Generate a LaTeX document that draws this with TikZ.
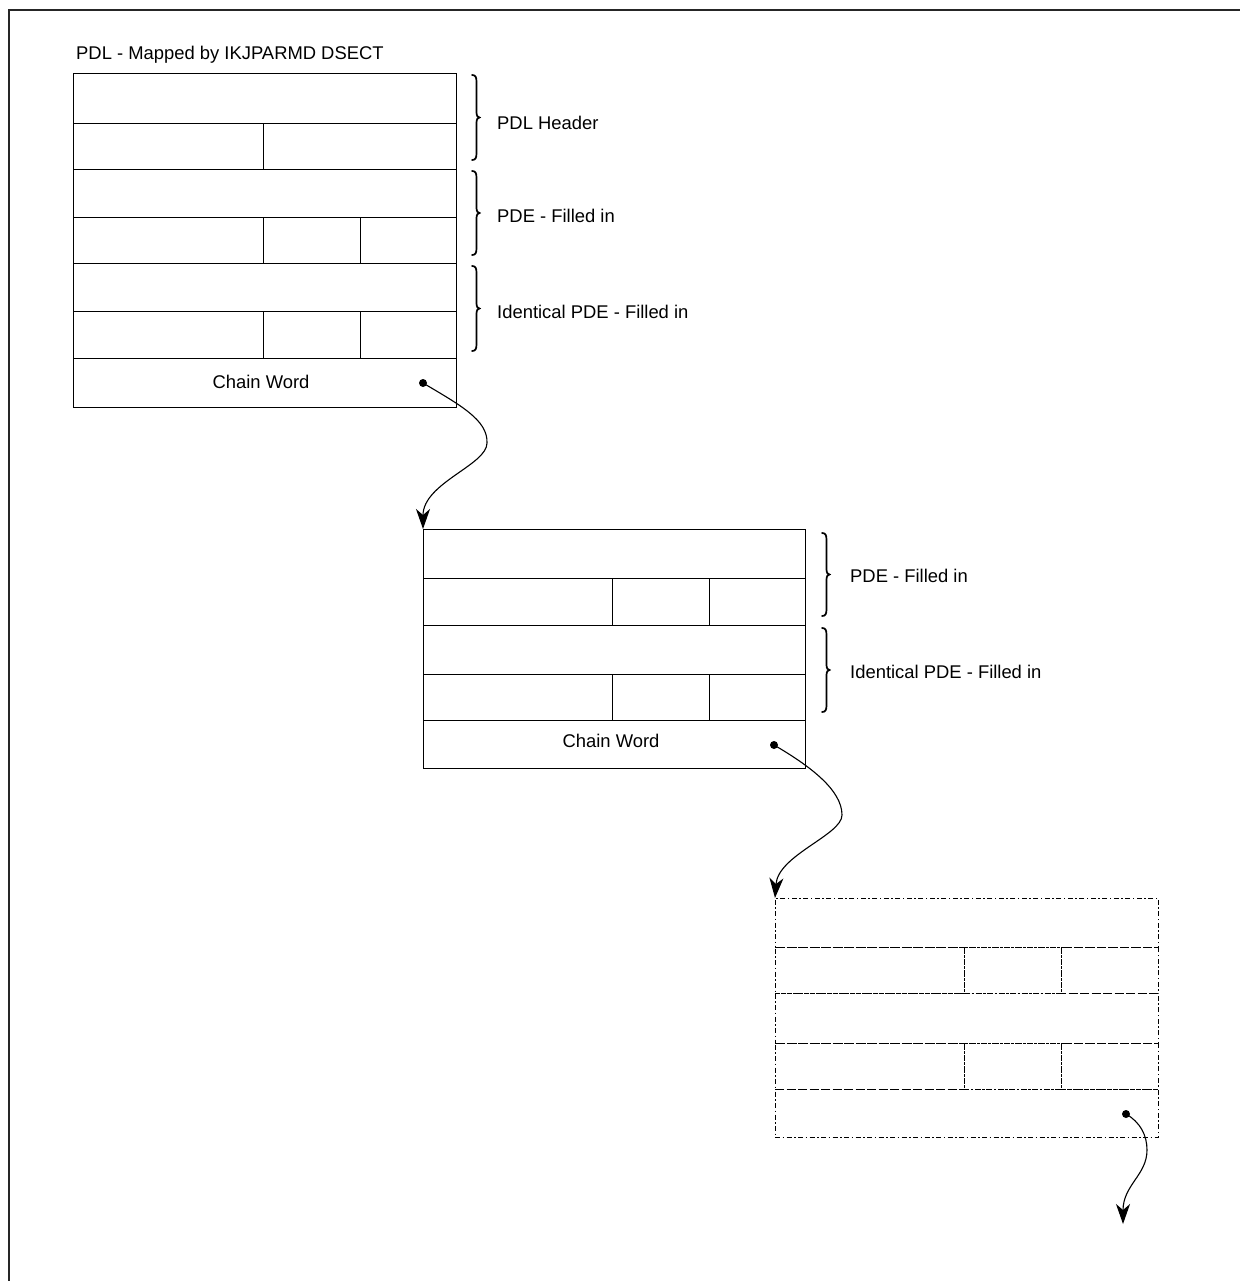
\documentclass[tikz,border=0pt]{standalone}
\usepackage{fontspec}
\setmainfont{Liberation Sans}
\usetikzlibrary{arrows.meta}
% a narrow curly brace at x=#1 from y=#2 (top) to y=#3 (bottom), tip pointing right
\newcommand\pdlbrace[3]{%
  \pgfmathsetmacro\bmid{(#2+#3)/2}%
  \draw[brcline] (#1,#2) .. controls (#1+3.5,#2) and (#1+4.5,#2+2) .. (#1+4.5,#2+7)
    -- (#1+4.5,\bmid-5) .. controls (#1+4.5,\bmid-1.5) and (#1+6,\bmid) .. (#1+7.5,\bmid)
    .. controls (#1+6,\bmid) and (#1+4.5,\bmid+1.5) .. (#1+4.5,\bmid+5)
    -- (#1+4.5,#3-7) .. controls (#1+4.5,#3-2) and (#1+3.5,#3) .. (#1,#3);}
\begin{document}
\begin{tikzpicture}[x=1pt,y=-1pt,
  cell/.style={draw, line width=0.9pt, anchor=north west, inner sep=0pt, outer sep=0pt},
  dcell/.style={cell, line width=1pt, dash pattern=on 5pt off 2.5pt on 1.5pt off 2.5pt},
  lbl/.style={anchor=base west, inner sep=0pt, font=\fontsize{18.4}{22}\selectfont},
  brcline/.style={line width=1.7pt, line cap=round},
  link/.style={line width=1.1pt, -{Stealth[length=20pt,width=14pt,inset=6pt]}},
  dotmark/.style={circle, fill, inner sep=0pt, minimum size=8pt}
]
\useasboundingbox (0,0) rectangle (1241,1281);

% frame
\draw[line width=1.3pt, black!85] (9,1281) -- (9,10) -- (1240,10);

% title
\node[lbl] (title) at (76,60) {PDL - Mapped by IKJPARMD DSECT};

% ---- first block: PDL header + two PDEs + chain word
\node[cell, minimum width=383pt, minimum height=50pt] (a1) at (73,73) {};
\node[cell, minimum width=190pt, minimum height=46pt] (a2l) at (73,123) {};
\node[cell, minimum width=193pt, minimum height=46pt] (a2r) at (263,123) {};
\node[cell, minimum width=383pt, minimum height=48pt] (a3) at (73,169) {};
\node[cell, minimum width=190pt, minimum height=46pt] (a4l) at (73,217) {};
\node[cell, minimum width=97pt, minimum height=46pt] (a4m) at (263,217) {};
\node[cell, minimum width=96pt, minimum height=46pt] (a4r) at (360,217) {};
\node[cell, minimum width=383pt, minimum height=48pt] (a5) at (73,263) {};
\node[cell, minimum width=190pt, minimum height=47pt] (a6l) at (73,311) {};
\node[cell, minimum width=97pt, minimum height=47pt] (a6m) at (263,311) {};
\node[cell, minimum width=96pt, minimum height=47pt] (a6r) at (360,311) {};
\node[cell, minimum width=383pt, minimum height=49pt] (a7) at (73,358) {};
\node[lbl, anchor=base] (cw1) at (261,388) {Chain Word};
\node[dotmark] (d1) at (423,383) {};

\pdlbrace{472}{75}{160}
\pdlbrace{472}{171}{255}
\pdlbrace{472}{266}{351}
\node[lbl] (h1) at (497,130) {PDL Header};
\node[lbl] (h2) at (497,223) {PDE - Filled in};
\node[lbl] (h3) at (497,318) {Identical PDE - Filled in};

% ---- second block
\node[cell, minimum width=382pt, minimum height=49pt] (b1) at (423,529) {};
\node[cell, minimum width=189pt, minimum height=47pt] (b2l) at (423,578) {};
\node[cell, minimum width=97pt, minimum height=47pt] (b2m) at (612,578) {};
\node[cell, minimum width=96pt, minimum height=47pt] (b2r) at (709,578) {};
\node[cell, minimum width=382pt, minimum height=49pt] (b3) at (423,625) {};
\node[cell, minimum width=189pt, minimum height=46pt] (b4l) at (423,674) {};
\node[cell, minimum width=97pt, minimum height=46pt] (b4m) at (612,674) {};
\node[cell, minimum width=96pt, minimum height=46pt] (b4r) at (709,674) {};
\node[cell, minimum width=382pt, minimum height=48pt] (b5) at (423,720) {};
\node[lbl, anchor=base] (cw2) at (611,747) {Chain Word};
\node[dotmark] (d2) at (774,745) {};

\pdlbrace{822}{533}{616}
\pdlbrace{822}{628}{712}
\node[lbl] (k1) at (850,582) {PDE - Filled in};
\node[lbl] (k2) at (850,678) {Identical PDE - Filled in};

% ---- third block (dash-dotted)
\node[dcell, minimum width=383pt, minimum height=49pt] (c1) at (775,898) {};
\node[dcell, minimum width=189pt, minimum height=46pt] (c2l) at (775,947) {};
\node[dcell, minimum width=97pt, minimum height=46pt] (c2m) at (964,947) {};
\node[dcell, minimum width=97pt, minimum height=46pt] (c2r) at (1061,947) {};
\node[dcell, minimum width=383pt, minimum height=50pt] (c3) at (775,993) {};
\node[dcell, minimum width=189pt, minimum height=46pt] (c4l) at (775,1043) {};
\node[dcell, minimum width=97pt, minimum height=46pt] (c4m) at (964,1043) {};
\node[dcell, minimum width=97pt, minimum height=46pt] (c4r) at (1061,1043) {};
\node[dcell, minimum width=383pt, minimum height=48pt] (c5) at (775,1089) {};
\node[dotmark] (d3) at (1126,1114) {};
\coordinate (next) at (1123,1224);

% ---- chain pointers
\draw[link] (d1.center) .. controls (460,405) and (488,420) .. (487,443)
                         .. controls (487,465) and (423,483) .. (b1.north west);
\draw[link] (d2.center) .. controls (810,766) and (842,790) .. (842,815)
                         .. controls (842,835) and (778,855) .. (c1.north west);
\draw[link] (d3.center) .. controls (1140,1122) and (1147,1135) .. (1147,1150)
                         .. controls (1147,1175) and (1123,1185) .. (next);
\end{tikzpicture}
\end{document}
